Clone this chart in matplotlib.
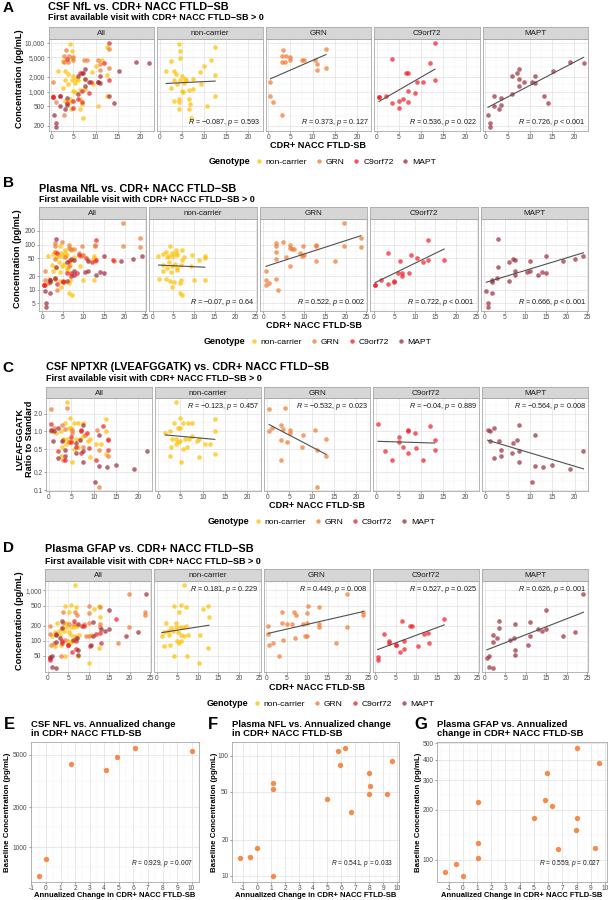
import numpy as np
import matplotlib
matplotlib.use("Agg")
import matplotlib.pyplot as plt
from matplotlib.lines import Line2D
from matplotlib.ticker import FixedLocator, FixedFormatter, NullFormatter

plt.rcParams['font.family'] = ['Liberation Sans', 'DejaVu Sans']
plt.rcParams['mathtext.fontset'] = 'custom'
plt.rcParams['mathtext.rm'] = 'Liberation Sans'
plt.rcParams['mathtext.it'] = 'Liberation Sans:italic'

W, H = 615, 900

genotypes = ['non-carrier', 'GRN', 'C9orf72', 'MAPT']
geno_colors = ['#FFC000', '#F2782E', '#EE1C24', '#9B2C3A']

# ---- A: CSF NfL vs CDR+ NACC FTLD-SB
csf_nfl_nc_x = [4.3, 4.65, 4.65, 2.6, 12.5, 11.5, 10.0, 9.1, 12.5, 1.5, 3.15, 3.75, 5.0, 5.6, 6.0, 7.6, 4.65, 3.15,
                2.6, 3.9, 5.4, 5.0, 5.3, 6.5, 7.6, 9.4, 4.3, 4.3, 3.15, 6.5, 6.9, 4.4, 6.6, 10.6, 12.5, 7.1]
csf_nfl_nc_y = [9500, 6800, 4750, 4200, 8300, 4400, 3350, 2500, 2150, 2600, 2600, 2300, 2050, 1850, 1700, 1800, 1700,
                1700, 1190, 1450, 1500, 1050, 1000, 1100, 1150, 1450, 700, 600, 650, 700, 550, 440, 440, 510, 800, 290]
csf_nfl_grn_x = [0.5, 0.5, 1.0, 3.0, 3.4, 3.0, 4.1, 3.0, 3.75, 4.9, 5.0, 7.5, 8.0, 10.5, 11.0, 11.0, 13.0, 13.0]
csf_nfl_grn_y = [1600, 800, 600, 330, 7200, 5300, 5400, 4000, 4000, 4500, 5000, 4400, 4400, 4400, 3600, 2700, 7400, 3100]
csf_nfl_c9_x = [13.1, 3.5, 12.0, 6.6, 7.0, 9.0, 10.5, 13.1, 7.0, 8.6, 0.5, 0.5, 2.0, 6.0, 5.0, 3.5, 7.0, 5.0]
csf_nfl_c9_y = [10000, 4600, 3900, 2400, 2400, 1550, 1550, 1700, 1050, 930, 790, 760, 830, 710, 630, 580, 600, 460]
csf_nfl_mapt_x = [22.1, 19.1, 15.2, 7.65, 7.1, 6.1, 7.65, 8.6, 11.1, 10.5, 11.1, 7.65, 6.1, 2.0, 3.6, 2.0, 3.6, 3.1,
                  13.1, 14.1, 0.6, 1.1, 1.1]
csf_nfl_mapt_y = [3850, 4050, 2600, 2950, 2450, 2100, 1830, 1600, 2050, 1560, 1530, 1270, 890, 830, 740, 500, 540, 430,
                  830, 590, 330, 230, 190]
csf_nfl_ticks = [200, 500, 1000, 2000, 5000, 10000]
csf_nfl_ticklabels = ['200', '500', '1,000', '2,000', '5,000', '10,000']
csf_nfl_stats = ['$R$ = \u22120.087, $p$ = 0.593', '$R$ = 0.373, $p$ = 0.127',
                 '$R$ = 0.536, $p$ = 0.022', '$R$ = 0.726, $p$ < 0.001']

# ---- B: Plasma NfL
pl_nfl_nc_x = [4.2, 5.6, 3.2, 4.6, 5.6, 7.0, 1.4, 2.6, 3.4, 4.0, 5.0, 6.0, 7.6, 9.6, 12.6, 12.6, 11.2, 4.0, 5.4, 7.2,
               6.8, 9.2, 2.4, 3.4, 4.8, 6.0, 6.0, 2.6, 4.4, 1.6, 3.2, 4.2, 5.2, 6.6, 6.8, 10.0, 12.6, 4.6, 6.6, 7.2]
pl_nfl_nc_y = [95, 77, 70, 65, 65, 74, 57, 62, 52, 56, 57, 59, 54, 59, 56, 50, 46, 42, 38, 46,
               35, 33, 35, 31, 33, 31, 27, 26, 25, 17.5, 17.5, 16, 15, 14, 16.5, 16.5, 16.5, 11.7, 8.3, 7.6]
pl_nfl_grn_x = [0.7, 0.7, 0.7, 1.5, 3.0, 3.5, 3.2, 3.2, 3.2, 3.2, 4.8, 5.6, 6.4, 6.6, 7.0, 7.6, 6.6, 9.6, 9.0, 9.4,
                9.8, 12.9, 12.9, 12.9, 17.4, 19.7, 19.7, 23.7, 23.7]
pl_nfl_grn_y = [26, 16.5, 13, 14, 17.5, 10, 110, 92, 70, 48, 115, 54, 100, 84, 80, 80, 33, 92, 65, 56,
                59, 100, 92, 43, 43, 300, 92, 137, 88]
pl_nfl_c9_x = [0.4, 0.4, 1.85, 3.5, 3.5, 5.0, 5.0, 6.0, 6.5, 7.0, 7.0, 8.5, 9.0, 10.5, 12.1, 13.1, 13.1, 17.1]
pl_nfl_c9_y = [12.8, 12.5, 16.6, 65, 13.4, 15.9, 14.7, 23.5, 43, 23.5, 20, 24, 59, 50, 42, 125, 46, 46]
pl_nfl_mapt_x = [3.45, 0.55, 0.95, 0.95, 2.0, 2.0, 2.0, 3.05, 3.45, 6.0, 6.0, 7.0, 7.6, 7.6, 7.6, 10.4, 11.1, 11.1,
                 13.1, 14.1, 15.1, 15.1, 19.1, 22.1, 24.1]
pl_nfl_mapt_y = [130, 9.4, 5.0, 4.2, 14.7, 16.6, 8.4, 18.1, 32, 41, 16, 48, 46, 26, 21, 25, 26, 43,
                 21.5, 25, 57, 24, 43, 47, 56]
pl_nfl_ticks = [5, 10, 20, 50, 100, 200]
pl_nfl_ticklabels = ['5', '10', '20', '50', '100', '200']
pl_nfl_stats = ['$R$ = \u22120.07, $p$ = 0.64', '$R$ = 0.522, $p$ = 0.002',
                '$R$ = 0.722, $p$ < 0.001', '$R$ = 0.666, $p$ < 0.001']

# ---- C: CSF NPTXR ratio
nptxr_nc_x = [4.1, 4.8, 3.5, 5.6, 6.6, 7.7, 12.7, 5.0, 4.4, 1.65, 2.6, 12.7, 7.7, 6.9, 6.0, 5.0, 4.1, 3.2, 3.9, 4.4,
              3.0, 5.6, 6.5, 8.8, 9.2, 10.5, 11.7, 12.7, 2.6, 9.2, 5.1]
nptxr_nc_y = [3.1, 1.7, 1.41, 1.41, 1.41, 1.36, 1.6, 1.14, 1.14, 0.94, 1.0, 1.0, 0.82, 0.73, 0.73, 0.68, 0.75, 0.75,
              0.61, 0.65, 0.55, 0.5, 0.54, 0.68, 0.73, 0.61, 0.61, 0.41, 0.38, 0.37, 0.3]
nptxr_grn_x = [0.45, 4.1, 0.5, 1.1, 3.0, 3.6, 5.1, 5.1, 3.2, 4.5, 3.2, 8.1, 7.7, 10.7, 13.2, 11.1, 13.2, 11.1]
nptxr_grn_y = [2.37, 2.46, 1.0, 1.14, 1.3, 1.11, 1.04, 0.94, 0.72, 0.67, 0.33, 0.85, 0.54, 1.04, 0.75, 0.49, 0.385,
               0.114]
nptxr_c9_x = [0.4, 2.0, 3.5, 5.0, 5.0, 6.0, 7.1, 7.1, 7.1, 8.6, 9.0, 10.5, 12.0, 13.1, 13.1]
nptxr_c9_y = [1.32, 0.46, 0.32, 0.8, 0.65, 0.54, 1.04, 1.0, 0.43, 0.95, 0.52, 0.32, 1.22, 0.7, 0.49]
nptxr_mapt_x = [0.5, 1.1, 2.0, 7.6, 1.0, 3.0, 6.1, 7.0, 3.5, 7.6, 2.0, 3.5, 6.0, 7.6, 11.1, 11.1, 13.0, 15.0, 19.0,
                22.0, 10.4]
nptxr_mapt_y = [1.04, 1.0, 1.16, 1.27, 0.68, 0.68, 0.64, 0.7, 0.49, 0.46, 0.35, 0.385, 0.42, 0.3, 0.88, 0.26, 0.25,
                0.27, 0.23, 0.46, 0.14]
nptxr_ticks = [0.1, 0.2, 0.5, 1.0, 2.0]
nptxr_ticklabels = ['0.1', '0.2', '0.5', '1.0', '2.0']
nptxr_stats = ['$R$ = \u22120.123, $p$ = 0.457', '$R$ = \u22120.532, $p$ = 0.023',
               '$R$ = \u22120.04, $p$ = 0.889', '$R$ = \u22120.564, $p$ = 0.008']

# ---- D: Plasma GFAP
gfap_nc_x = [6.6, 4.2, 5.8, 7.0, 11.3, 12.5, 5.3, 12.7, 2.2, 4.6, 4.6, 5.6, 6.4, 7.1, 3.4, 2.8, 1.8, 4.0, 5.2, 5.8,
             6.6, 3.0, 7.7, 10.6, 1.2, 4.9, 5.4, 6.0, 3.3, 1.8, 12.5, 4.2, 7.3, 10.2]
gfap_nc_y = [1290, 480, 520, 470, 430, 480, 380, 290, 225, 225, 190, 185, 190, 200, 178, 155, 148, 155, 148, 132,
             126, 127, 127, 132, 122, 100, 89, 100, 83, 79, 71, 49, 49, 35]
gfap_grn_x = [0.55, 0.55, 0.8, 1.6, 3.2, 3.8, 3.8, 4.2, 5.2, 6.4, 6.8, 7.2, 7.0, 8.9, 10.2, 9.4, 10.0, 10.0, 10.0,
              12.9, 12.9, 12.9, 17.1, 19.8, 19.8, 23.7, 23.7]
gfap_grn_y = [200, 138, 83, 89, 49, 380, 225, 105, 210, 210, 370, 330, 112, 215, 500, 126, 360, 225, 126,
              460, 215, 183, 89, 850, 185, 380, 330]
gfap_c9_x = [0.55, 0.55, 2.0, 3.4, 3.4, 5.0, 5.0, 6.4, 6.0, 7.0, 7.0, 8.4, 9.0, 10.4, 11.8, 12.8, 13.0, 16.8]
gfap_c9_y = [47, 42, 138, 98, 89, 83, 81, 250, 59, 98, 68, 200, 200, 79, 138, 142, 89, 275]
gfap_mapt_x = [0.55, 1.1, 1.1, 2.0, 3.6, 3.6, 2.0, 2.0, 3.0, 6.1, 7.1, 7.5, 7.5, 7.5, 10.6, 11.0, 11.0, 13.0, 14.0,
               15.0, 15.0, 19.1, 22.1, 24.1]
gfap_mapt_y = [44, 49, 30, 29, 250, 178, 132, 94, 112, 105, 112, 215, 66, 51, 83, 240, 122, 170, 158,
               170, 400, 122, 147, 860]
gfap_ticks = [50, 100, 200, 500, 1000]
gfap_ticklabels = ['50', '100', '200', '500', '1,000']
gfap_stats = ['$R$ = 0.181, $p$ = 0.229', '$R$ = 0.449, $p$ = 0.008',
              '$R$ = 0.527, $p$ = 0.025', '$R$ = 0.626, $p$ = 0.001']

# ---- E-G: baseline vs annualized change (GRN)
annual_change_e = [-0.5, 0.0, 1.73, 4.15, 4.88, 6.14, 10.0]
csf_nfl_baseline = [610, 810, 4240, 3840, 4770, 5580, 5300]
annual_change_fg = [-1.25, -0.48, 0.0, 1.1, 1.1, 1.1, 5.0, 5.8, 5.9, 6.25, 6.7, 8.0, 8.05, 7.95, 9.3, 9.6]
plasma_nfl_baseline = [13.9, 14.4, 16.9, 59, 53, 10, 43.5, 110, 83, 115, 33.6, 71, 55.6, 47.8, 47.8, 91]
plasma_gfap_baseline = [84, 94, 80, 222, 126, 102, 178, 228, 333, 209, 116, 467, 178, 150, 118, 382]
annual_ticks = list(range(-1, 11))

SUBTITLE = 'First available visit with CDR+ NACC FTLD\u2212SB > 0'
XLABEL = 'CDR+ NACC FTLD-SB'
BORDER = '#A8A8A8'
TXT = '#1A1A1A'
TICK = '#4D4D4D'


def rect(left, top, width, height):
    return [left / W, 1 - (top + height) / H, width / W, height / H]


def fx(px):
    return px / W


def fy(py):
    return 1 - py / H


def log_limits(vals, pad=0.05):
    lg = np.log10(vals)
    r = lg.max() - lg.min()
    return 10 ** (lg.min() - pad * r), 10 ** (lg.max() + pad * r)


def lin_limits(vals, pad=0.05):
    v = np.asarray(vals, dtype=float)
    r = v.max() - v.min()
    return v.min() - pad * r, v.max() + pad * r


def minors(majors, lo, hi, log=True):
    m = np.log10(majors) if log else np.asarray(majors, dtype=float)
    ext = np.concatenate([[m[0] - (m[1] - m[0])], m, [m[-1] + (m[-1] - m[-2])]])
    mids = (ext[:-1] + ext[1:]) / 2
    vals = 10 ** mids if log else mids
    return vals[(vals > lo) & (vals < hi)]


def style_axes(ax, xticks, xlims, yticks, ylabels, ylims, show_y, tick_size=4.8):
    ax.set_yscale('log')
    ax.set_xlim(xlims)
    ax.set_ylim(ylims)
    ax.xaxis.set_major_locator(FixedLocator(xticks))
    ax.xaxis.set_minor_locator(FixedLocator(minors(xticks, *xlims, log=False)))
    ax.xaxis.set_major_formatter(FixedFormatter([str(t) for t in xticks]))
    ax.yaxis.set_major_locator(FixedLocator(yticks))
    ax.yaxis.set_minor_locator(FixedLocator(minors(yticks, *ylims)))
    ax.yaxis.set_major_formatter(FixedFormatter(ylabels))
    ax.yaxis.set_minor_formatter(NullFormatter())
    ax.grid(True, which='major', color='#E0E0E0', lw=0.5)
    ax.grid(True, which='minor', color='#F0F0F0', lw=0.35)
    ax.set_axisbelow(True)
    ax.tick_params(which='major', length=1.5, width=0.4, color=TICK, labelsize=tick_size,
                   labelcolor=TICK, pad=1)
    ax.tick_params(which='minor', length=0)
    if not show_y:
        ax.tick_params(axis='y', which='both', length=0, labelleft=False)
    for s in ax.spines.values():
        s.set_color(BORDER)
        s.set_linewidth(0.6)


def add_fit(ax, x, y):
    x = np.asarray(x, dtype=float)
    slope, icpt = np.polyfit(x, np.log10(y), 1)
    xs = np.array([x.min(), x.max()])
    ax.plot(xs, 10 ** (icpt + slope * xs), color='#505050', lw=0.8, zorder=3)


rows = [
    dict(letter='A', title='CSF NfL vs. CDR+ NACC FTLD\u2212SB',
         xs=[csf_nfl_nc_x, csf_nfl_grn_x, csf_nfl_c9_x, csf_nfl_mapt_x],
         ys=[csf_nfl_nc_y, csf_nfl_grn_y, csf_nfl_c9_y, csf_nfl_mapt_y],
         ticks=csf_nfl_ticks, ticklabels=csf_nfl_ticklabels, stats=csf_nfl_stats, stats_top=False,
         ylabel='Concentration (pg/mL)', left=48.5, strip_top=27, bottom=131, title_y=6.5, sub_y=18,
         letter_y=8.5, xlabel_y=145.5, legend_y=162, ylabel_x=20),
    dict(letter='B', title='Plasma NfL vs. CDR+ NACC FTLD\u2212SB',
         xs=[pl_nfl_nc_x, pl_nfl_grn_x, pl_nfl_c9_x, pl_nfl_mapt_x],
         ys=[pl_nfl_nc_y, pl_nfl_grn_y, pl_nfl_c9_y, pl_nfl_mapt_y],
         ticks=pl_nfl_ticks, ticklabels=pl_nfl_ticklabels, stats=pl_nfl_stats, stats_top=False,
         ylabel='Concentration (pg/mL)', left=39, strip_top=207.3, bottom=311, title_y=189, sub_y=200,
         letter_y=183, xlabel_y=325.5, legend_y=342, ylabel_x=18),
    dict(letter='C', title='CSF NPTXR (LVEAFGGATK) vs. CDR+ NACC FTLD\u2212SB',
         xs=[nptxr_nc_x, nptxr_grn_x, nptxr_c9_x, nptxr_mapt_x],
         ys=[nptxr_nc_y, nptxr_grn_y, nptxr_c9_y, nptxr_mapt_y],
         ticks=nptxr_ticks, ticklabels=nptxr_ticklabels, stats=nptxr_stats, stats_top=True,
         ylabel='LVEAFGGATK\nRatio to Standard', left=46, strip_top=386.7, bottom=491, title_y=366.7,
         sub_y=378.3, letter_y=367.5, xlabel_y=505.5, legend_y=522, ylabel_x=24.5),
    dict(letter='D', title='Plasma GFAP vs. CDR+ NACC FTLD\u2212SB',
         xs=[gfap_nc_x, gfap_grn_x, gfap_c9_x, gfap_mapt_x],
         ys=[gfap_nc_y, gfap_grn_y, gfap_c9_y, gfap_mapt_y],
         ticks=gfap_ticks, ticklabels=gfap_ticklabels, stats=gfap_stats, stats_top=True,
         ylabel='Concentration (pg/mL)', left=45, strip_top=569.3, bottom=671.7, title_y=549, sub_y=561,
         letter_y=548.3, xlabel_y=688, legend_y=704, ylabel_x=20),
]

fig = plt.figure(figsize=(W / 100, H / 100), dpi=100)

RIGHT = 588.3
GAP = 3.0
STRIP_H = 11.5

for row in rows:
    left = row['left']
    pw = (RIGHT - left - 4 * GAP) / 5
    top = row['strip_top'] + STRIP_H
    ph = row['bottom'] - top
    all_x = np.concatenate(row['xs'])
    all_y = np.concatenate(row['ys'])
    xlims = lin_limits(all_x)
    ylims = log_limits(all_y)
    xticks = [t for t in range(0, 30, 5) if xlims[0] <= t <= xlims[1]]

    for i, name in enumerate(['All'] + genotypes):
        px = left + i * (pw + GAP)
        ax = fig.add_axes(rect(px, top, pw, ph))
        if i == 0:
            for gx, gy, col in zip(row['xs'], row['ys'], geno_colors):
                ax.scatter(gx, gy, s=11, color=col, alpha=0.7, lw=0, zorder=2)
        else:
            gx, gy = row['xs'][i - 1], row['ys'][i - 1]
            ax.scatter(gx, gy, s=11, color=geno_colors[i - 1], alpha=0.7, lw=0, zorder=2)
            add_fit(ax, gx, gy)
            if row['stats_top']:
                ax.text(0.975, 0.965, row['stats'][i - 1], transform=ax.transAxes, ha='right', va='top',
                        fontsize=5.2, color=TXT)
            else:
                ax.text(0.975, 0.03, row['stats'][i - 1], transform=ax.transAxes, ha='right', va='bottom',
                        fontsize=5.2, color=TXT)
        style_axes(ax, xticks, xlims, row['ticks'], row['ticklabels'], ylims, show_y=(i == 0))

        sax = fig.add_axes(rect(px, row['strip_top'], pw, STRIP_H))
        sax.set_facecolor('#D6D6D6')
        sax.set_xticks([])
        sax.set_yticks([])
        for s in sax.spines.values():
            s.set_color(BORDER)
            s.set_linewidth(0.6)
        sax.text(0.5, 0.45, name, ha='center', va='center', fontsize=5.8, color=TXT,
                 transform=sax.transAxes)

    center = (left + RIGHT) / 2
    fig.text(fx(8), fy(row['letter_y']), row['letter'], fontsize=11, fontweight='bold', ha='center', va='center')
    fig.text(fx(left), fy(row['title_y']), row['title'], fontsize=7.8, fontweight='bold', ha='left', va='center')
    fig.text(fx(left), fy(row['sub_y']), SUBTITLE, fontsize=6.5, fontweight='bold', ha='left', va='center')
    fig.text(fx(center), fy(row['xlabel_y']), XLABEL, fontsize=6.6, fontweight='bold', ha='center', va='center')
    fig.text(fx(row['ylabel_x']), fy((row['strip_top'] + row['bottom']) / 2), row['ylabel'], fontsize=6.6,
             fontweight='bold', rotation=90, ha='center', va='center', linespacing=1.1)

    fig.text(fx(center - 110), fy(row['legend_y']), 'Genotype', fontsize=6.5, fontweight='bold',
             ha='left', va='center')
    handles = [Line2D([], [], marker='o', linestyle='none', markersize=3.2, markerfacecolor=c,
                      markeredgecolor='none', alpha=0.75) for c in geno_colors]
    fig.legend(handles, genotypes, loc='center left', bbox_to_anchor=(fx(center - 63), fy(row['legend_y'])),
               ncol=4, frameon=False, fontsize=6.1, handlelength=0.8, handletextpad=0.4, columnspacing=1.0,
               borderpad=0, borderaxespad=0)

# ---- bottom panels E, F, G
bottom_panels = [
    dict(letter='E', letter_x=9.3, title='CSF NFL vs. Annualized change\nin CDR+ NACC FTLD-SB',
         x=annual_change_e, y=csf_nfl_baseline, ticks=[1000, 2000, 5000], ticklabels=['1000', '2000', '5000'],
         stat='$R$ = 0.929, $p$ = 0.007', left=31, right=199.3, ylabel_x=7.5),
    dict(letter='F', letter_x=213.3, title='Plasma NFL vs. Annualized change\nin CDR+ NACC FTLD-SB',
         x=annual_change_fg, y=plasma_nfl_baseline, ticks=[10, 20, 50, 100], ticklabels=['10', '20', '50', '100'],
         stat='$R$ = 0.541, $p$ = 0.033', left=232, right=399.3, ylabel_x=214),
    dict(letter='G', letter_x=420.7, title='Plasma GFAP vs. Annualized\nchange in CDR+ NACC FTLD-SB',
         x=annual_change_fg, y=plasma_gfap_baseline, ticks=[100, 200, 300, 400, 500],
         ticklabels=['100', '200', '300', '400', '500'],
         stat='$R$ = 0.559, $p$ = 0.027', left=437.3, right=607, ylabel_x=419),
]

BP_TOP, BP_BOTTOM = 742, 882
for bp in bottom_panels:
    ax = fig.add_axes(rect(bp['left'], BP_TOP, bp['right'] - bp['left'], BP_BOTTOM - BP_TOP))
    ax.scatter(bp['x'], bp['y'], s=15, color=geno_colors[1], alpha=0.85, lw=0, zorder=2)
    xlims = lin_limits(bp['x'])
    ylims = log_limits(bp['y'])
    xt = [t for t in annual_ticks if xlims[0] <= t <= xlims[1]]
    style_axes(ax, xt, xlims, bp['ticks'], bp['ticklabels'], ylims, show_y=True, tick_size=4.8)
    ax.text(0.965, 0.135, bp['stat'], transform=ax.transAxes, ha='right', va='center', fontsize=4.8, color=TXT)
    fig.text(fx(bp['letter_x']), fy(724.5), bp['letter'], fontsize=12, fontweight='bold', ha='center', va='center')
    fig.text(fx(bp['left']), fy(728.7), bp['title'], fontsize=6.8, fontweight='bold', ha='left', va='center',
             linespacing=1.0)
    fig.text(fx((bp['left'] + bp['right']) / 2), fy(895.5), 'Annualized Change in CDR+ NACC FTLD-SB', fontsize=5.5,
             fontweight='bold', ha='center', va='center')
    fig.text(fx(bp['ylabel_x']), fy((BP_TOP + BP_BOTTOM) / 2), 'Baseline Concentration (pg/mL)', fontsize=5.7,
             fontweight='bold', rotation=90, ha='center', va='center')

fig.savefig('out.png', dpi=100)
